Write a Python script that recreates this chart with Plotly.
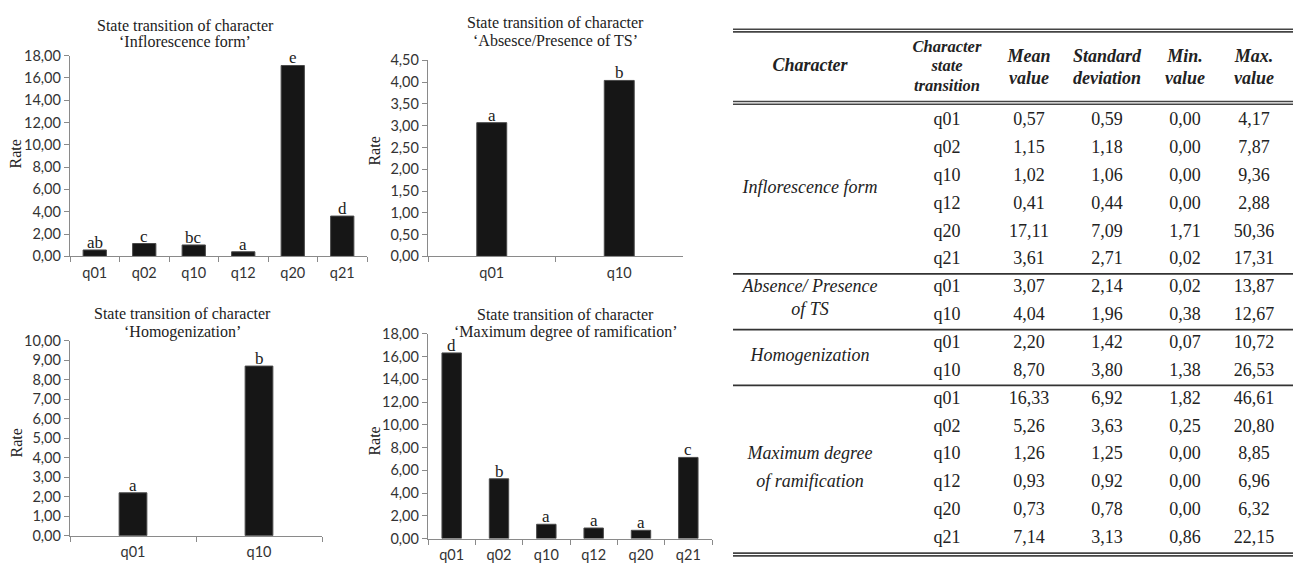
import plotly.graph_objects as go

W, H = 1293, 566

# ---------------- data ----------------
INFL_CAT = ["q01", "q02", "q10", "q12", "q20", "q21"]
INFL_MEAN = [0.57, 1.15, 1.02, 0.41, 17.11, 3.61]
INFL_SD = [0.59, 1.18, 1.06, 0.44, 7.09, 2.71]
INFL_MIN = [0.00, 0.00, 0.00, 0.00, 1.71, 0.02]
INFL_MAX = [4.17, 7.87, 9.36, 2.88, 50.36, 17.31]
INFL_LET = ["ab", "c", "bc", "a", "e", "d"]

ABS_CAT = ["q01", "q10"]
ABS_MEAN = [3.07, 4.04]
ABS_SD = [2.14, 1.96]
ABS_MIN = [0.02, 0.38]
ABS_MAX = [13.87, 12.67]
ABS_LET = ["a", "b"]

HOM_CAT = ["q01", "q10"]
HOM_MEAN = [2.20, 8.70]
HOM_SD = [1.42, 3.80]
HOM_MIN = [0.07, 1.38]
HOM_MAX = [10.72, 26.53]
HOM_LET = ["a", "b"]

MAX_CAT = ["q01", "q02", "q10", "q12", "q20", "q21"]
MAX_MEAN = [16.33, 5.26, 1.26, 0.93, 0.73, 7.14]
MAX_SD = [6.92, 3.63, 1.25, 0.92, 0.78, 3.13]
MAX_MIN = [1.82, 0.25, 0.00, 0.00, 0.00, 0.86]
MAX_MAX = [46.61, 20.80, 8.85, 6.96, 6.32, 22.15]
MAX_LET = ["d", "b", "a", "a", "a", "c"]

YTICKS_INFL = [0, 2, 4, 6, 8, 10, 12, 14, 16, 18]
YTICKS_ABS = [0, 0.5, 1, 1.5, 2, 2.5, 3, 3.5, 4, 4.5]
YTICKS_HOM = [0, 1, 2, 3, 4, 5, 6, 7, 8, 9, 10]
YTICKS_MAX = [0, 2, 4, 6, 8, 10, 12, 14, 16, 18]

TITLE_INFL = ["State transition of character", "\u2018Inflorescence form\u2019"]
TITLE_ABS = ["State transition of character", "\u2018Absesce/Presence of TS\u2019"]
TITLE_HOM = ["State transition of character", "\u2018Homogenization\u2019"]
TITLE_MAX = ["State transition of character", "\u2018Maximum degree of ramification\u2019"]
Y_LABEL = "Rate"

TABLE_HEAD = [["Character"], ["Character", "state", "transition"], ["Mean", "value"],
              ["Standard", "deviation"], ["Min.", "value"], ["Max.", "value"]]
GROUP_LABELS = [["Inflorescence form"], ["Absence/ Presence", "of TS"],
                ["Homogenization"], ["Maximum degree", "of ramification"]]

# ---------------- style / layout ----------------
SERIF = "Liberation Serif"
SANS = "Lato"
TXT = "#222222"
AX = "#8a8a8a"
TICK_SIZE = 14.5

charts = [
    dict(cat=INFL_CAT, val=INFL_MEAN, let=INFL_LET, title=TITLE_INFL, yt=YTICKS_INFL,
         box=(70, 367, 48, 255), bw=0.47, tpos=(185, 17, 33), rpos=(15, 150)),
    dict(cat=ABS_CAT, val=ABS_MEAN, let=ABS_LET, title=TITLE_ABS, yt=YTICKS_ABS,
         box=(428, 683, 53, 255), bw=0.235, tpos=(555, 14, 32), rpos=(375, 147)),
    dict(cat=HOM_CAT, val=HOM_MEAN, let=HOM_LET, title=TITLE_HOM, yt=YTICKS_HOM,
         box=(70, 322, 342, 543), bw=0.22, tpos=(182, 314, 333), rpos=(17, 448)),
    dict(cat=MAX_CAT, val=MAX_MEAN, let=MAX_LET, title=TITLE_MAX, yt=YTICKS_MAX,
         box=(428, 712, 335, 546), bw=0.41, tpos=(565, 315, 333), rpos=(375, 446)),
]


def px(x):
    return x / W


def py(y):
    return 1 - y / H


fig = go.Figure()
layout = dict(
    width=W, height=H, margin=dict(l=0, r=0, t=0, b=0),
    paper_bgcolor="white", plot_bgcolor="rgba(0,0,0,0)", showlegend=False,
    separators=", ", font=dict(family=SANS, color=TXT),
)
annotations = []
shapes = []

for i, c in enumerate(charts, start=1):
    xa = "x" if i == 1 else f"x{i}"
    ya = "y" if i == 1 else f"y{i}"
    x0, x1, yt, yb = c["box"]
    fig.add_trace(go.Bar(
        x=c["cat"], y=c["val"], xaxis=xa, yaxis=ya, width=c["bw"],
        marker=dict(color="#161616", line=dict(color="#4a4a4a", width=1)),
        hoverinfo="skip",
    ))
    for cat, v, lt in zip(c["cat"], c["val"], c["let"]):
        annotations.append(dict(x=cat, y=v, xref=xa, yref=ya, text=lt, showarrow=False,
                                yanchor="bottom", borderpad=0, yshift=-3,
                                font=dict(family=SERIF, size=17, color=TXT)))
    layout["xaxis" if i == 1 else f"xaxis{i}"] = dict(
        domain=[px(x0), px(x1)], anchor=ya, type="category",
        range=[-0.5, len(c["cat"]) - 0.5], showline=True, linecolor=AX, linewidth=1.3,
        ticks="outside", tickson="boundaries", ticklen=5, tickcolor=AX, tickwidth=1.2,
        tickfont=dict(family=SANS, size=TICK_SIZE, color="#333333"), ticklabelstandoff=3,
        showgrid=False, zeroline=False, fixedrange=True,
    )
    layout["yaxis" if i == 1 else f"yaxis{i}"] = dict(
        domain=[py(yb), py(yt)], anchor=xa, range=[0, c["yt"][-1]],
        tickvals=c["yt"], tickformat=".2f", showline=True, linecolor=AX, linewidth=1.3,
        ticks="outside", ticklen=5, tickcolor=AX, tickwidth=1.2,
        tickfont=dict(family=SANS, size=TICK_SIZE, color="#333333"),
        showgrid=False, zeroline=False, fixedrange=True,
    )
    tx, ty1, ty2 = c["tpos"]
    for line, yy in zip(c["title"], (ty1, ty2)):
        annotations.append(dict(x=px(tx), y=py(yy), xref="paper", yref="paper", text=line,
                                showarrow=False, xanchor="center", yanchor="middle",
                                font=dict(family=SERIF, size=16, color=TXT)))
    rx, ry = c["rpos"]
    annotations.append(dict(x=px(rx), y=py(ry), xref="paper", yref="paper", text=Y_LABEL,
                            showarrow=False, textangle=-90, xanchor="center", yanchor="middle",
                            font=dict(family=SERIF, size=16, color=TXT)))

# ---------------- table ----------------
COL_X = [810, 947, 1029, 1107, 1185, 1254]
ROW0, ROW_H = 115, 28.73
TAB_L, TAB_R = 733, 1293
HEAD_Y = {1: [59], 2: [50, 73], 3: [40, 60, 80]}
HEAD_SIZE = {1: 18, 2: 18, 3: 16.5}
GROUP_LINE_R = [[2.45], [6.0, 6.8], [8.45], [12.0, 13.0]]

groups = [
    (INFL_CAT, INFL_MEAN, INFL_SD, INFL_MIN, INFL_MAX),
    (ABS_CAT, ABS_MEAN, ABS_SD, ABS_MIN, ABS_MAX),
    (HOM_CAT, HOM_MEAN, HOM_SD, HOM_MIN, HOM_MAX),
    (MAX_CAT, MAX_MEAN, MAX_SD, MAX_MIN, MAX_MAX),
]


def fmt(v):
    return f"{v:.2f}".replace(".", ",")


head_sets = {}
for ci, lines in enumerate(TABLE_HEAD):
    n = len(lines)
    hs = head_sets.setdefault(n, ([], [], []))
    for line, yy in zip(lines, HEAD_Y[n]):
        hs[0].append(COL_X[ci]); hs[1].append(yy); hs[2].append(f"<b><i>{line}</i></b>")

gx, gy, gt = [], [], []
dx, dy, dt = [], [], []
r = 0
boundaries = []
for gi, (cats, mean, sd, mn, mx) in enumerate(groups):
    for k in range(len(cats)):
        for ci, s in enumerate([cats[k], fmt(mean[k]), fmt(sd[k]), fmt(mn[k]), fmt(mx[k])], start=1):
            dx.append(COL_X[ci]); dy.append(ROW0 + ROW_H * r); dt.append(s)
        r += 1
    for line, rr in zip(GROUP_LABELS[gi], GROUP_LINE_R[gi]):
        gx.append(COL_X[0]); gy.append(ROW0 + ROW_H * rr); gt.append(f"<i>{line}</i>")
    if gi < len(groups) - 1:
        boundaries.append(ROW0 + ROW_H * (r - 0.5))

text_sets = [(hs[0], hs[1], hs[2], HEAD_SIZE[n]) for n, hs in head_sets.items()]
text_sets += [(gx, gy, gt, 18), (dx, dy, dt, 18)]
for xs, ys, ts, size in text_sets:
    fig.add_trace(go.Scatter(x=xs, y=ys, text=ts, mode="text", xaxis="x5", yaxis="y5",
                             textposition="middle center", cliponaxis=False, hoverinfo="skip",
                             textfont=dict(family=SERIF, size=size, color=TXT)))

layout["xaxis5"] = dict(domain=[0, 1], range=[0, W], visible=False, fixedrange=True)
layout["yaxis5"] = dict(domain=[0, 1], range=[H, 0], visible=False, fixedrange=True, anchor="x5")

RULE_C = "#444444"
for yy in [20.8, 23.6, 95.4, 98.2, 561.0, 563.8]:
    shapes.append(dict(type="line", xref="x5", yref="y5", x0=TAB_L, x1=TAB_R, y0=yy, y1=yy,
                       line=dict(color=RULE_C, width=1.6)))
for yy in boundaries:
    shapes.append(dict(type="line", xref="x5", yref="y5", x0=TAB_L, x1=TAB_R, y0=yy, y1=yy,
                       line=dict(color="#333333", width=1.8)))

layout["annotations"] = annotations
layout["shapes"] = shapes
fig.update_layout(**layout)

fig.write_html("out.html", config={"displayModeBar": False},
               post_script="document.body.style.margin='0';document.body.style.overflow='hidden';")
